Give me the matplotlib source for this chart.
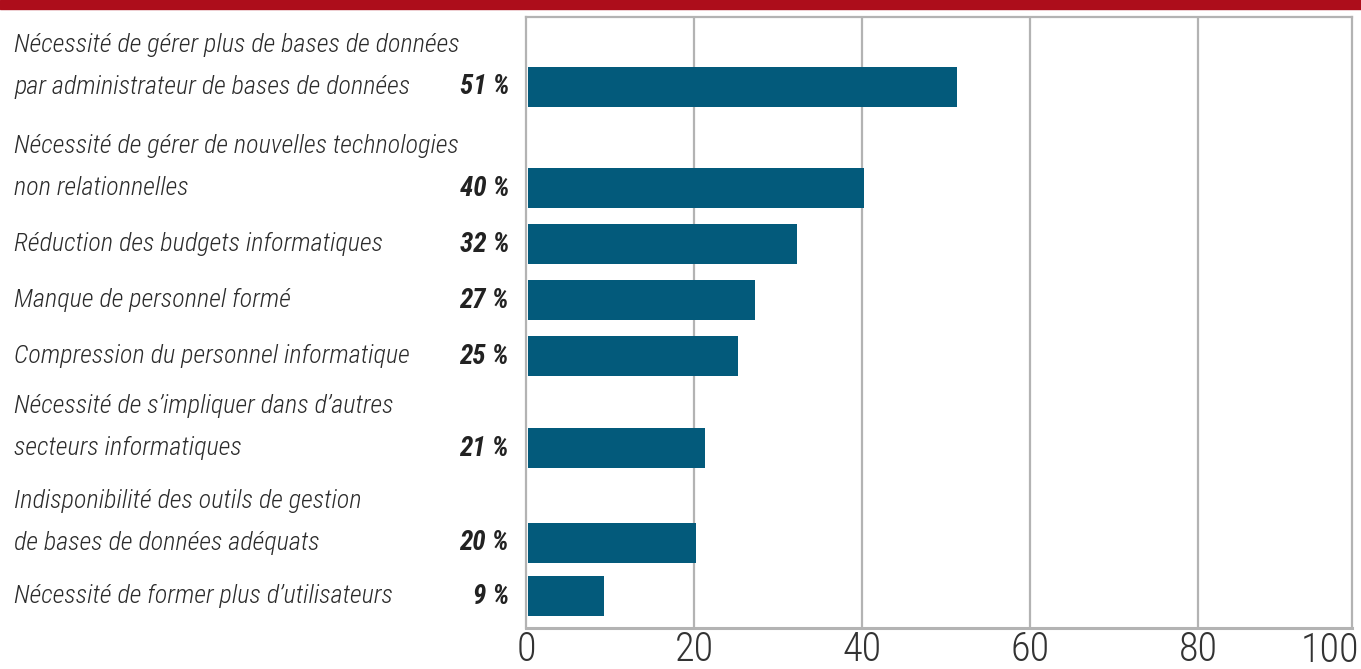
import matplotlib.pyplot as plt
from matplotlib import font_manager

# Survey answers, in display order (top to bottom)
labels = [
    "Nécessité de gérer plus de bases de données\npar administrateur de bases de données",
    "Nécessité de gérer de nouvelles technologies\nnon relationnelles",
    "Réduction des budgets informatiques",
    "Manque de personnel formé",
    "Compression du personnel informatique",
    "Nécessité de s’impliquer dans d’autres\nsecteurs informatiques",
    "Indisponibilité des outils de gestion\nde bases de données adéquats",
    "Nécessité de former plus d’utilisateurs",
]
values = [51, 40, 32, 27, 25, 21, 20, 9]
xticks = [0, 20, 40, 60, 80]

# row centres, in pixels from the top of the figure
rows = [87, 188, 244, 300, 356, 448, 543, 596]

# pick a condensed face if one is around
names = {f.name for f in font_manager.fontManager.ttflist}
candidates = ["Roboto Condensed", "Archivo Narrow", "PT Sans Narrow", "Fira Sans Condensed",
              "IBM Plex Sans Condensed", "Encode Sans Condensed", "Open Sans Condensed",
              "Liberation Sans Narrow", "Liberation Sans"]
narrow = next(c for c in candidates if c in names)
plt.rcParams['font.family'] = [narrow, 'DejaVu Sans']

W, H = 1361, 669
fig = plt.figure(figsize=(W / 100, H / 100), dpi=100)

# red band across the top
fig.patches.append(plt.Rectangle((0, 1 - 9 / H), 1, 9 / H, transform=fig.transFigure,
                                 color='#ad0d1b', zorder=0))

left, right, top, bottom = 526, 1352, 17, 628
ax = fig.add_axes([left / W, 1 - bottom / H, (right - left) / W, (bottom - top) / H])
xmax = 100 * (right - left) / 840.0
ax.set_xlim(0, xmax)
ax.set_ylim(bottom, top)

bar_color = '#035a7b'
ax.barh(rows, values, height=40, color=bar_color, left=0.25, zorder=3)

for x in xticks[1:]:
    ax.axvline(x, color='#b3b3b3', lw=1.6, zorder=1)

for s in ax.spines.values():
    s.set_color('#b3b3b3')
    s.set_linewidth(1.6)
ax.spines['bottom'].set_linewidth(2.2)

ax.set_yticks([])
ax.set_xticks(xticks)
ax.set_xticklabels([str(t) for t in xticks], fontsize=29, color='#333333', fontweight='light')
ax.tick_params(axis='x', length=0, pad=2)
# the 100 mark sits just past the right edge of the frame
ax.text(xmax + 0.9, bottom + 3, "100", fontsize=29, color='#333333', fontweight='light',
        ha='right', va='top', clip_on=False)

# category text and percentages to the left of the bars
for y, lab, v in zip(rows, labels, values):
    lines = lab.split("\n")
    for i, line in enumerate(reversed(lines)):
        fig.text(14 / W, 1 - (y - 42 * i) / H, line, fontsize=18.8, style='italic',
                 fontweight='light', color='#2b2b2b', ha='left', va='center')
    fig.text(509 / W, 1 - y / H, f"{v} %", fontsize=19.5, style='italic',
             weight='bold', color='#222222', ha='right', va='center')

fig.savefig("out.png", dpi=100)
